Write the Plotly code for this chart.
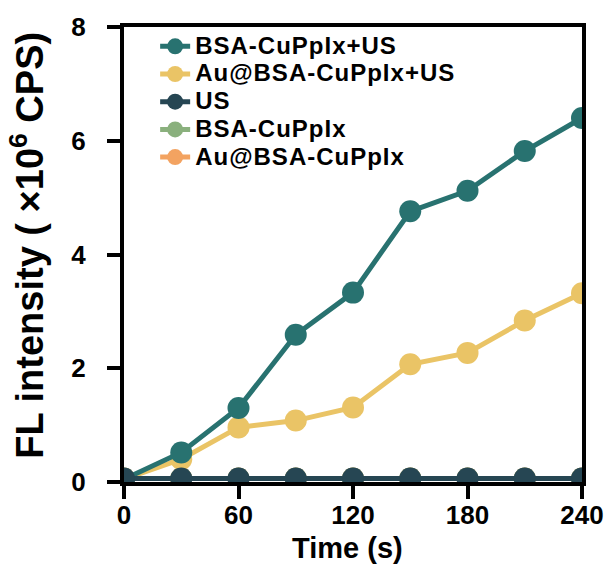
import plotly.graph_objects as go

time_s = [0, 30, 60, 90, 120, 150, 180, 210, 240]

bsa_us = [0.05, 0.52, 1.30, 2.59, 3.33, 4.76, 5.12, 5.82, 6.40]
au_bsa_us = [0.05, 0.40, 0.96, 1.08, 1.31, 2.07, 2.27, 2.84, 3.32]
us_only = [0.06, 0.06, 0.06, 0.06, 0.06, 0.06, 0.06, 0.06, 0.06]
bsa_only = [0.06, 0.06, 0.06, 0.06, 0.06, 0.06, 0.06, 0.06, 0.06]
au_bsa_only = [0.06, 0.06, 0.06, 0.06, 0.06, 0.06, 0.06, 0.06, 0.06]

names = ["BSA-CuPpIx+US", "Au@BSA-CuPpIx+US", "US", "BSA-CuPpIx", "Au@BSA-CuPpIx"]
colors = ["#287270", "#EAC466", "#264653", "#8AB07D", "#F3A361"]
series = [bsa_us, au_bsa_us, us_only, bsa_only, au_bsa_only]

x_ticks = [0, 60, 120, 180, 240]
y_ticks = [0, 2, 4, 6, 8]

FONT = "Liberation Sans, Arial, sans-serif"

fig = go.Figure()
# draw order: hidden baselines first, US last (on top)
draw_order = [4, 3, 1, 0, 2]
for i in draw_order:
    fig.add_trace(go.Scatter(
        x=time_s, y=series[i], mode="lines+markers",
        name='<span style="font-size:24px;letter-spacing:1px">' + names[i] + '</span>',
        legendrank=i + 1,
        line=dict(color=colors[i], width=5),
        marker=dict(color=colors[i], size=22),
    ))

axis_common = dict(
    showline=True, linecolor="black", linewidth=4, mirror=True,
    ticks="outside", ticklen=13, tickwidth=4, tickcolor="black",
    showgrid=False, zeroline=False,
    tickfont=dict(family=FONT, size=26, color="black", weight="bold"),
)

fig.update_xaxes(range=[0, 240], tickvals=x_ticks, ticklabelstandoff=-6, **axis_common)
fig.update_yaxes(range=[0, 8], tickvals=y_ticks, ticklabelstandoff=16, **axis_common)

fig.add_annotation(
    text="FL intensity ( ×10<sup>6</sup> CPS)", textangle=-90,
    xref="paper", yref="paper", x=-0.211, y=0.52,
    xanchor="center", yanchor="middle", showarrow=False,
    font=dict(family=FONT, size=38, color="black", weight="bold"),
)
fig.add_annotation(
    text="Time (s)",
    xref="paper", yref="paper", x=0.488, y=-0.146,
    xanchor="center", yanchor="middle", showarrow=False,
    font=dict(family=FONT, size=29, color="black", weight="bold"),
)

fig.update_layout(
    width=616, height=566, autosize=False,
    margin=dict(l=124, r=33, t=24, b=84),
    plot_bgcolor="white", paper_bgcolor="white",
    showlegend=True,
    legend=dict(
        x=0.068, y=0.999, xanchor="left", yanchor="top",
        bgcolor="rgba(0,0,0,0)", borderwidth=0,
        font=dict(family=FONT, size=19, color="black", weight="bold"),
        itemsizing="trace", tracegroupgap=0,
    ),
)

fig.write_html("out.html")
